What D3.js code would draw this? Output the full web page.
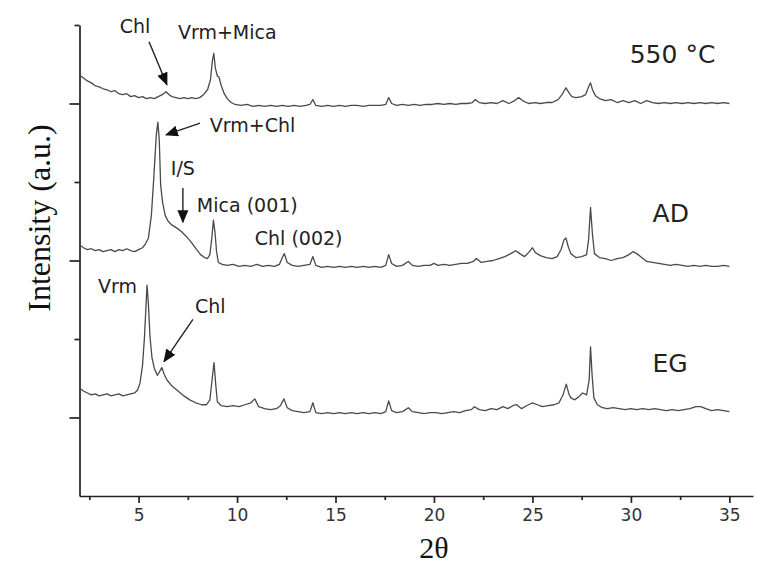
<!DOCTYPE html>
<html>
<head>
<meta charset="utf-8">
<script src="https://cdn.jsdelivr.net/npm/d3@7"></script>
<style>
  body { margin: 0; background: #fff; }
</style>
</head>
<body>
<div id="XrdChart"></div>
<script>
// XRD patterns, [2theta, intensity (a.u.)]
const trace550 = [
  [2.0,429],[2.2,426],[2.4,423],[2.6,421],[2.8,418],[3.0,417],[3.2,415],[3.4,414],[3.6,412],[3.8,413],
  [4.0,410],[4.2,409],[4.4,410],[4.6,407],[4.8,408],[5.0,406],[5.2,407],[5.4,405],[5.6,406],[5.8,405],
  [6.0,407],[6.2,409],[6.4,412],[6.55,409],[6.7,407],[6.9,406],[7.1,405],[7.3,406],[7.5,405],[7.7,406],
  [7.9,405],[8.1,406],[8.3,409],[8.5,414],[8.65,424],[8.75,444],[8.82,451],[8.9,436],[9.0,428],[9.08,427],
  [9.2,418],[9.35,410],[9.5,405],[9.7,401],[9.9,399],[10.2,398],[10.5,399],[10.8,397],[11.1,398],[11.4,397],
  [11.7,398],[12.0,397],[12.3,398],[12.6,397],[12.9,398],[13.2,397],[13.5,398],[13.7,399],[13.85,404],[14.0,398],
  [14.3,397],[14.6,398],[14.9,397],[15.2,398],[15.5,397],[15.8,398],[16.1,398],[16.4,397],[16.7,398],[17.0,398],
  [17.3,398],[17.55,399],[17.7,406],[17.85,400],[18.1,398],[18.4,399],[18.7,398],[19.0,399],[19.3,398],[19.6,399],
  [19.9,399],[20.2,400],[20.5,399],[20.8,400],[21.1,399],[21.4,400],[21.7,400],[21.95,401],[22.1,404],[22.3,401],
  [22.6,400],[22.9,401],[23.2,400],[23.5,403],[23.8,400],[24.1,403],[24.3,406],[24.5,403],[24.8,400],[25.1,401],
  [25.4,400],[25.7,401],[26.0,401],[26.3,404],[26.5,409],[26.7,416],[26.85,411],[27.0,407],[27.2,406],[27.5,407],
  [27.7,409],[27.85,417],[27.95,421],[28.05,414],[28.2,408],[28.4,405],[28.7,403],[29.0,404],[29.3,401],[29.6,403],
  [29.9,401],[30.2,403],[30.5,400],[30.8,403],[31.1,401],[31.4,400],[31.7,401],[32.0,400],[32.3,401],[32.6,400],
  [32.9,401],[33.2,400],[33.5,401],[33.8,400],[34.1,401],[34.4,400],[34.7,401],[35.0,400]
];

const traceAD = [
  [2.0,256],[2.2,253],[2.4,251],[2.6,252],[2.8,250],[3.0,251],[3.2,249],[3.4,250],[3.6,251],[3.8,249],
  [4.0,251],[4.2,250],[4.4,252],[4.6,250],[4.8,249],[5.0,251],[5.2,253],[5.35,257],[5.5,263],[5.65,286],
  [5.78,327],[5.9,368],[5.98,381],[6.05,363],[6.12,317],[6.22,299],[6.35,286],[6.5,280],[6.7,276],[6.95,273],
  [7.2,269],[7.45,264],[7.7,258],[7.95,251],[8.15,246],[8.35,243],[8.5,242],[8.62,246],[8.72,263],[8.8,281],
  [8.88,269],[8.96,249],[9.05,238],[9.25,236],[9.5,235],[9.8,236],[10.1,234],[10.4,235],[10.7,234],[11.0,236],
  [11.3,234],[11.6,235],[11.9,234],[12.15,236],[12.3,243],[12.4,247],[12.55,238],[12.8,235],[13.1,234],[13.4,235],
  [13.7,236],[13.85,244],[14.0,235],[14.3,233],[14.6,234],[14.9,233],[15.2,234],[15.5,233],[15.8,234],[16.1,233],
  [16.4,234],[16.7,233],[17.0,234],[17.3,233],[17.55,235],[17.7,246],[17.85,237],[18.1,234],[18.4,235],[18.7,239],
  [18.9,235],[19.2,234],[19.5,235],[19.8,235],[20.0,237],[20.2,235],[20.5,236],[20.8,235],[21.1,236],[21.4,237],
  [21.7,237],[22.0,239],[22.15,242],[22.4,238],[22.7,239],[23.0,240],[23.3,242],[23.6,244],[23.9,247],[24.15,250],
  [24.35,247],[24.6,244],[24.8,248],[25.0,253],[25.15,248],[25.4,245],[25.7,243],[26.0,242],[26.25,244],[26.45,251],
  [26.6,261],[26.7,263],[26.82,254],[26.95,247],[27.2,243],[27.5,244],[27.75,246],[27.85,261],[27.95,294],[28.05,266],
  [28.15,247],[28.4,243],[28.7,242],[29.0,240],[29.3,242],[29.6,243],[29.9,246],[30.1,249],[30.3,247],[30.55,243],
  [30.8,239],[31.1,238],[31.4,237],[31.7,236],[32.0,235],[32.3,236],[32.6,235],[32.9,234],[33.2,235],[33.5,234],
  [33.8,235],[34.1,234],[34.4,234],[34.7,235],[35.0,234]
];

const traceEG = [
  [2.0,110],[2.2,107],[2.4,105],[2.6,103],[2.8,104],[3.0,102],[3.2,103],[3.4,104],[3.6,102],[3.8,103],
  [4.0,104],[4.2,102],[4.4,103],[4.6,104],[4.8,105],[4.95,108],[5.07,115],[5.2,133],[5.3,162],[5.38,195],
  [5.43,215],[5.5,195],[5.58,162],[5.68,141],[5.8,130],[5.95,123],[6.05,126],[6.18,131],[6.3,124],[6.45,118],
  [6.7,112],[7.0,107],[7.3,102],[7.6,98],[7.9,95],[8.2,93],[8.45,93],[8.62,98],[8.73,118],[8.83,136],
  [8.92,113],[9.0,96],[9.2,92],[9.5,91],[9.8,92],[10.1,91],[10.4,93],[10.7,95],[10.9,99],[11.1,91],
  [11.4,89],[11.7,88],[12.0,89],[12.2,92],[12.38,99],[12.55,90],[12.8,87],[13.1,86],[13.4,85],[13.7,86],
  [13.85,95],[14.0,85],[14.3,84],[14.6,85],[14.9,84],[15.2,85],[15.5,84],[15.8,85],[16.1,84],[16.4,85],
  [16.7,84],[17.0,85],[17.3,84],[17.55,86],[17.7,97],[17.85,87],[18.1,85],[18.4,86],[18.7,90],[18.9,86],
  [19.2,85],[19.5,84],[19.8,85],[20.1,85],[20.4,84],[20.7,85],[21.0,86],[21.3,85],[21.6,87],[21.9,88],
  [22.05,91],[22.3,88],[22.6,87],[22.9,89],[23.2,88],[23.5,91],[23.75,89],[24.0,92],[24.2,93],[24.45,89],
  [24.7,92],[25.0,95],[25.25,93],[25.5,91],[25.8,92],[26.1,93],[26.35,95],[26.55,103],[26.72,114],[26.85,104],
  [26.95,100],[27.15,98],[27.35,101],[27.55,105],[27.75,103],[27.88,118],[27.95,152],[28.03,123],[28.12,100],[28.3,93],
  [28.55,90],[28.8,89],[29.1,90],[29.4,89],[29.7,88],[30.0,89],[30.3,88],[30.6,89],[30.9,88],[31.2,89],
  [31.5,88],[31.8,87],[32.1,88],[32.4,87],[32.7,88],[33.0,89],[33.3,91],[33.55,91],[33.8,89],[34.1,87],
  [34.4,88],[34.7,87],[35.0,86]
];

const traces = [trace550, traceAD, traceEG];

// sample names and where they sit (2theta, intensity of the baseline of the text)
const sampleNames = ["550 °C", "AD", "EG"];
const sampleLabelX = [29.94, 31.1, 31.1];
const sampleLabelY = [441, 279, 126];

// peak labels
const noteTexts = ["Chl", "Vrm+Mica", "Vrm+Chl", "I/S", "Mica (001)", "Chl (002)", "Vrm", "Chl"];
const noteX = [4.82, 7.0, 8.62, 7.25, 7.96, 10.9, 2.94, 7.86];
const noteY = [472, 466, 371, 327, 289, 256, 207, 186];
const noteAnchor = ["middle", "start", "start", "middle", "start", "start", "start", "start"];

// arrows: [from2theta, fromI, to2theta, toI]
const arrowPts = [
  [5.53, 463, 6.44, 419],
  [8.12, 380, 6.39, 368],
  [7.25, 314, 7.25, 279],
  [7.76, 180, 6.29, 137]
];

// axis ticks
const xTicks = [5, 10, 15, 20, 25, 30, 35];
const xMinorTicks = [2.5, 7.5, 12.5, 17.5, 22.5, 27.5, 32.5];
const yTicks = [80, 240, 400];
const yMinorTicks = [160, 320, 480];

// SVG dimensions
const svgWidth = 773;
const svgHeight = 577;
const plotLeft = 79.5;
const plotBottom = 496;
const plotTop = 25;
const plotRight = 753;

const svg = d3.select("#XrdChart").append("svg")
    .attr("width", svgWidth)
    .attr("height", svgHeight)
    .style("display", "block");

const xScale = d3.scaleLinear().domain([2, 36.2]).range([plotLeft, plotRight]);
const yScale = d3.scaleLinear().domain([0, 480]).range([plotBottom, plotTop]);

// arrow head
svg.append("defs").append("marker")
    .attr("id", "head")
    .attr("markerUnits", "userSpaceOnUse")
    .attr("markerWidth", 13)
    .attr("markerHeight", 11)
    .attr("refX", 12)
    .attr("refY", 5.5)
    .attr("orient", "auto")
    .append("path")
    .attr("d", "M0,0 L13,5.5 L0,11 Z")
    .attr("fill", "#111");

// x axis (major + minor)
const xAxisG = svg.append("g")
    .attr("transform", "translate(0," + plotBottom + ")")
    .call(d3.axisBottom(xScale).tickValues(xTicks).tickSize(7).tickSizeOuter(0).tickPadding(6));
svg.append("g")
    .attr("transform", "translate(0," + plotBottom + ")")
    .call(d3.axisBottom(xScale).tickValues(xMinorTicks).tickSize(4).tickFormat(""))
    .call(g => g.select(".domain").remove());

// y axis (no labels)
svg.append("g")
    .attr("transform", "translate(" + plotLeft + ",0)")
    .call(d3.axisLeft(yScale).tickValues(yTicks).tickSize(10).tickSizeOuter(0).tickFormat(""));
svg.append("g")
    .attr("transform", "translate(" + plotLeft + ",0)")
    .call(d3.axisLeft(yScale).tickValues(yMinorTicks).tickSize(5).tickFormat(""))
    .call(g => g.select(".domain").remove());

svg.selectAll(".domain, .tick line")
    .attr("stroke", "#222")
    .attr("stroke-width", 1.7);

xAxisG.selectAll(".tick text")
    .attr("font-family", "'DejaVu Sans', sans-serif")
    .attr("font-size", 17)
    .attr("fill", "#333");

// the traces
const line = d3.line()
    .x(d => xScale(d[0]))
    .y(d => yScale(d[1]));

svg.selectAll(".trace")
    .data(traces)
    .enter().append("path")
    .attr("class", "trace")
    .attr("d", line)
    .attr("fill", "none")
    .attr("stroke", "#4a4a4a")
    .attr("stroke-width", 1.3)
    .attr("stroke-linejoin", "round");

// sample names
svg.selectAll(".sample")
    .data(sampleNames)
    .enter().append("text")
    .attr("class", "sample")
    .attr("x", (d, i) => xScale(sampleLabelX[i]))
    .attr("y", (d, i) => yScale(sampleLabelY[i]))
    .attr("font-family", "'DejaVu Sans', sans-serif")
    .attr("font-size", 25)
    .attr("fill", "#222")
    .text(d => d);

// peak labels
svg.selectAll(".note")
    .data(noteTexts)
    .enter().append("text")
    .attr("class", "note")
    .attr("x", (d, i) => xScale(noteX[i]))
    .attr("y", (d, i) => yScale(noteY[i]))
    .attr("text-anchor", (d, i) => noteAnchor[i])
    .attr("font-family", "'DejaVu Sans', sans-serif")
    .attr("font-size", 19)
    .attr("fill", "#222")
    .text(d => d);

svg.selectAll(".arrow")
    .data(arrowPts)
    .enter().append("line")
    .attr("class", "arrow")
    .attr("x1", d => xScale(d[0]))
    .attr("y1", d => yScale(d[1]))
    .attr("x2", d => xScale(d[2]))
    .attr("y2", d => yScale(d[3]))
    .attr("stroke", "#222")
    .attr("stroke-width", 1.4)
    .attr("marker-end", "url(#head)");

// axis titles
svg.append("text")
    .attr("x", xScale(20))
    .attr("y", 558)
    .attr("text-anchor", "middle")
    .attr("font-family", "'Liberation Serif', 'Times New Roman', serif")
    .attr("font-size", 30)
    .attr("fill", "#111")
    .text("2θ");

svg.append("text")
    .attr("transform", "translate(50,218) rotate(-90)")
    .attr("text-anchor", "middle")
    .attr("font-family", "'Liberation Serif', 'Times New Roman', serif")
    .attr("font-size", 32)
    .attr("fill", "#111")
    .text("Intensity (a.u.)");
</script>
</body>
</html>
